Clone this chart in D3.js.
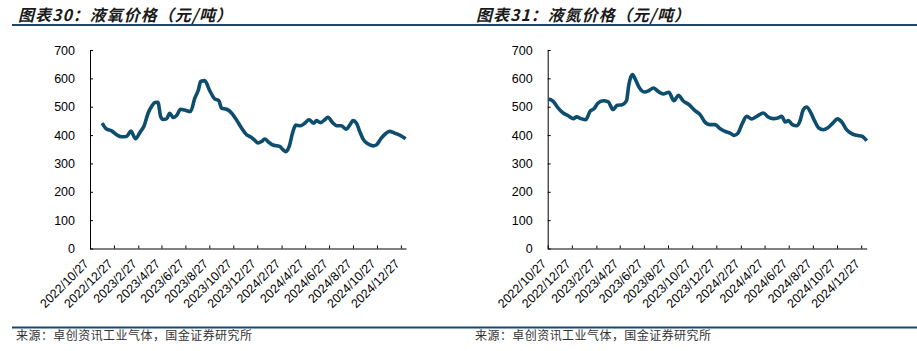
<!DOCTYPE html>
<html><head><meta charset="utf-8">
<script src="https://cdn.jsdelivr.net/npm/d3@7"></script>
<style>body{margin:0;background:#fff} svg{display:block}</style>
</head><body><svg id="c" width="917" height="351"></svg>
<script>
const xTickLabels = ["2022/10/27","2022/12/27","2023/2/27","2023/4/27","2023/6/27","2023/8/27","2023/10/27","2023/12/27","2024/2/27","2024/4/27","2024/6/27","2024/8/27","2024/10/27","2024/12/27"];
const yTicks = [0,100,200,300,400,500,600,700];

const oxygenDates = ["2022/11/27","2022/12/8","2022/12/21","2023/1/3","2023/1/15","2023/1/28","2023/2/8","2023/2/20","2023/3/3","2023/3/14","2023/3/24","2023/4/3","2023/4/10","2023/4/18","2023/4/25","2023/5/1","2023/5/10","2023/5/18","2023/5/27","2023/6/4","2023/6/15","2023/6/25","2023/7/10","2023/7/21","2023/7/30","2023/8/5","2023/8/15","2023/8/28","2023/9/10","2023/9/20","2023/9/27","2023/10/10","2023/10/22","2023/11/4","2023/11/17","2023/11/30","2023/12/12","2023/12/21","2023/12/29","2024/1/7","2024/1/15","2024/1/26","2024/2/5","2024/2/22","2024/3/2","2024/3/9","2024/3/17","2024/3/26","2024/4/3","2024/4/15","2024/4/26","2024/5/7","2024/5/19","2024/5/26","2024/6/5","2024/6/16","2024/6/24","2024/7/6","2024/7/17","2024/7/28","2024/8/10","2024/8/19","2024/8/27","2024/9/5","2024/9/13","2024/9/23","2024/10/4","2024/10/17","2024/10/26","2024/11/7","2024/11/20","2024/11/28","2024/12/11","2024/12/24","2025/1/8"];
const oxygenValues = [442,421,415,401,394,395,414,387,409,433,477,503,515,516,465,455,457,477,462,468,491,488,483,530,559,589,592,557,527,522,495,491,479,454,425,401,392,381,372,377,386,374,365,360,348,341,358,407,435,433,442,454,442,451,444,454,463,444,433,433,421,436,451,442,413,383,369,362,366,389,407,413,407,400,387];

const nitrogenDates = ["2022/10/28","2022/11/10","2022/11/22","2022/12/5","2022/12/18","2022/12/31","2023/1/8","2023/1/19","2023/1/31","2023/2/11","2023/2/21","2023/3/3","2023/3/16","2023/3/29","2023/4/10","2023/4/21","2023/5/3","2023/5/14","2023/5/20","2023/5/29","2023/6/6","2023/6/15","2023/6/28","2023/7/10","2023/7/21","2023/8/2","2023/8/15","2023/8/29","2023/9/11","2023/9/22","2023/10/4","2023/10/19","2023/11/3","2023/11/16","2023/11/27","2023/12/11","2023/12/24","2024/1/5","2024/1/18","2024/1/31","2024/2/10","2024/2/20","2024/3/1","2024/3/13","2024/3/25","2024/4/7","2024/4/24","2024/5/6","2024/5/19","2024/5/30","2024/6/9","2024/6/19","2024/6/26","2024/7/6","2024/7/17","2024/7/25","2024/8/3","2024/8/11","2024/8/22","2024/9/1","2024/9/11","2024/9/22","2024/10/3","2024/10/17","2024/10/28","2024/11/8","2024/11/20","2024/12/3","2024/12/16","2024/12/29","2025/1/10"];
const nitrogenValues = [527,519,496,478,468,458,464,458,454,484,493,513,521,517,490,505,507,521,578,613,595,568,552,557,566,554,545,551,521,540,521,507,486,472,448,437,437,423,413,407,399,407,439,466,457,466,478,464,458,460,466,446,451,437,433,448,490,499,478,448,425,419,425,443,457,446,419,405,399,396,380];

const titles = ["图表30：液氧价格（元/吨）","图表31：液氮价格（元/吨）"];
const sourceText = "来源：卓创资讯工业气体，国金证券研究所";

const parse = d3.timeParse("%Y/%m/%d");
const svg = d3.select("#c");
const LINE = "#0d4d6d";
const RULE = "#17486d";
const AXF = "'Liberation Sans', Arial, sans-serif";
const CJK = "'Noto Sans CJK SC', sans-serif";

// header and footer rules
svg.append("line").attr("x1",12).attr("x2",917).attr("y1",25).attr("y2",25)
  .attr("stroke",RULE).attr("stroke-width",2);
svg.append("line").attr("x1",12).attr("x2",917).attr("y1",327.5).attr("y2",327.5)
  .attr("stroke",RULE).attr("stroke-width",2);

function panel(cfg) {
  const x = d3.scaleTime().domain([parse("2022/10/27"), parse(cfg.end)]).range([cfg.x0, cfg.x1]);
  const y = d3.scaleLinear().domain([0,700]).range([248.5, 50]);

  svg.append("text").attr("x",cfg.tx).attr("y",20.5)
    .attr("font-family",CJK).attr("font-size",16).attr("font-weight","bold").attr("font-style","italic")
    .attr("fill","#1a1a1a").attr("textLength",214).attr("lengthAdjust","spacing")
    .text(cfg.title);

  svg.append("text").attr("x",cfg.sx).attr("y",340)
    .attr("font-family",CJK).attr("font-size",12).attr("fill","#333")
    .attr("textLength",236).attr("lengthAdjust","spacing")
    .text(sourceText);

  const gy = svg.append("g").attr("transform",`translate(${cfg.x0},0)`)
    .call(d3.axisLeft(y).tickValues(yTicks).tickSize(-3).tickSizeOuter(0).tickPadding(15));
  gy.select(".domain").attr("stroke","#000");
  gy.selectAll(".tick line").attr("stroke","#000");
  gy.selectAll("text").attr("font-family",AXF).attr("font-size",12.5).attr("fill","#000");

  const tickDates = xTickLabels.map(parse);
  const gx = svg.append("g").attr("transform",`translate(0,248.5)`)
    .call(d3.axisBottom(x).tickValues(tickDates).tickSize(-3).tickSizeOuter(0)
      .tickFormat((d,i)=>xTickLabels[i]));
  gx.select(".domain").attr("stroke","#000");
  gx.selectAll(".tick line").attr("stroke","#000");
  gx.selectAll("text").attr("font-family",AXF).attr("font-size",12.5).attr("fill","#000")
    .attr("text-anchor","end").attr("x",0).attr("y",0).attr("dy",0)
    .attr("transform","translate(-1,16) rotate(-45)");

  const data = cfg.dates.map((d,i)=>({d:parse(d), v:cfg.values[i]}));
  svg.append("path").datum(data)
    .attr("fill","none").attr("stroke",LINE).attr("stroke-width",3.6)
    .attr("stroke-linejoin","round").attr("stroke-linecap","butt")
    .attr("d", d3.line().x(p=>x(p.d)).y(p=>y(p.v)).curve(d3.curveMonotoneX));
}

panel({x0:90, x1:406, end:"2025/1/9", tx:18, sx:16, title:titles[0], dates:oxygenDates, values:oxygenValues});
panel({x0:547.7, x1:866.7, end:"2025/1/10", tx:476, sx:475, title:titles[1], dates:nitrogenDates, values:nitrogenValues});
</script>
</body></html>
